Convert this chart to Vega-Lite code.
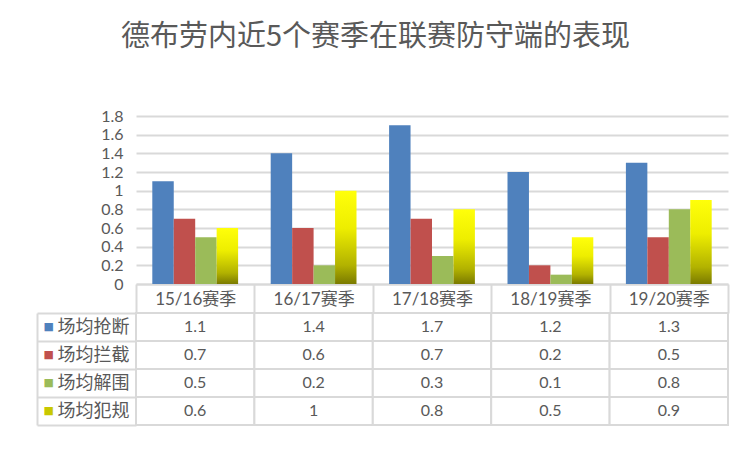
{
  "$schema": "https://vega.github.io/schema/vega-lite/v6.json",
  "padding": {"left": 36, "top": 23, "right": 10, "bottom": 10},
  "background": "white",
  "title": {
    "text": "德布劳内近5个赛季在联赛防守端的表现",
    "font": "Noto Sans CJK SC",
    "fontSize": 29,
    "fontWeight": "normal",
    "color": "#595959",
    "anchor": "middle",
    "offset": 56,
    "dx": -7
  },
  "bounds": "flush",
  "spacing": 29,
  "config": {
    "view": {"stroke": null},
    "font": "Lato, 'Noto Sans CJK SC', sans-serif"
  },
  "datasets": {
    "stats": [
      {"season": "15/16赛季", "series": "场均抢断", "value": 1.1},
      {"season": "16/17赛季", "series": "场均抢断", "value": 1.4},
      {"season": "17/18赛季", "series": "场均抢断", "value": 1.7},
      {"season": "18/19赛季", "series": "场均抢断", "value": 1.2},
      {"season": "19/20赛季", "series": "场均抢断", "value": 1.3},
      {"season": "15/16赛季", "series": "场均拦截", "value": 0.7},
      {"season": "16/17赛季", "series": "场均拦截", "value": 0.6},
      {"season": "17/18赛季", "series": "场均拦截", "value": 0.7},
      {"season": "18/19赛季", "series": "场均拦截", "value": 0.2},
      {"season": "19/20赛季", "series": "场均拦截", "value": 0.5},
      {"season": "15/16赛季", "series": "场均解围", "value": 0.5},
      {"season": "16/17赛季", "series": "场均解围", "value": 0.2},
      {"season": "17/18赛季", "series": "场均解围", "value": 0.3},
      {"season": "18/19赛季", "series": "场均解围", "value": 0.1},
      {"season": "19/20赛季", "series": "场均解围", "value": 0.8},
      {"season": "15/16赛季", "series": "场均犯规", "value": 0.6},
      {"season": "16/17赛季", "series": "场均犯规", "value": 1},
      {"season": "17/18赛季", "series": "场均犯规", "value": 0.8},
      {"season": "18/19赛季", "series": "场均犯规", "value": 0.5},
      {"season": "19/20赛季", "series": "场均犯规", "value": 0.9}
    ]
  },
  "vconcat": [
    {
      "width": 592,
      "height": 168,
      "data": {"name": "stats"},
      "encoding": {
        "x": {
          "field": "season",
          "type": "nominal",
          "sort": null,
          "scale": {
            "domain": ["15/16赛季", "16/17赛季", "17/18赛季", "18/19赛季", "19/20赛季"],
            "paddingInner": 0,
            "paddingOuter": 0
          },
          "axis": {
            "title": null,
            "orient": "bottom",
            "domainColor": "#d9d9d9",
            "domainWidth": 2,
            "tickBand": "extent",
            "tickSize": 29,
            "tickColor": "#d9d9d9",
            "tickWidth": 2,
            "labelAngle": 0,
            "labelBaseline": "middle",
            "labelPadding": -14,
            "labelFontSize": 17,
            "labelColor": "#595959",
            "labelFont": "Lato, 'Noto Sans CJK SC', sans-serif"
          }
        },
        "xOffset": {
          "field": "series",
          "type": "nominal",
          "sort": null,
          "scale": {
            "domain": ["场均抢断", "场均拦截", "场均解围", "场均犯规"],
            "paddingInner": 0,
            "paddingOuter": 0.76
          }
        },
        "y": {
          "field": "value",
          "type": "quantitative",
          "scale": {"domain": [0, 1.8], "nice": false},
          "axis": {
            "title": null,
            "values": [0, 0.2, 0.4, 0.6, 0.8, 1, 1.2, 1.4, 1.6, 1.8],
            "format": "~g",
            "domain": false,
            "ticks": false,
            "gridColor": "#d9d9d9",
            "gridWidth": 2,
            "labelPadding": 13,
            "labelFontSize": 16,
            "labelColor": "#595959",
            "labelFont": "Lato, sans-serif"
          }
        }
      },
      "layer": [
        {
          "transform": [{"filter": "datum.series != '场均犯规'"}],
          "mark": {"type": "bar"},
          "encoding": {
            "color": {
              "field": "series",
              "type": "nominal",
              "scale": {
                "domain": ["场均抢断", "场均拦截", "场均解围"],
                "range": ["#4f81bd", "#c0504d", "#9bbb59"]
              },
              "legend": null
            }
          }
        },
        {
          "transform": [{"filter": "datum.series == '场均犯规'"}],
          "mark": {
            "type": "bar",
            "fill": {
              "gradient": "linear",
              "x1": 0, "y1": 0, "x2": 0, "y2": 1,
              "stops": [
                {"offset": 0, "color": "#ffff0a"},
                {"offset": 0.4, "color": "#eeee00"},
                {"offset": 0.8, "color": "#b2b200"},
                {"offset": 1, "color": "#7a7a00"}
              ]
            }
          },
          "encoding": {}
        }
      ]
    },
    {
      "width": 592,
      "height": 112,
      "data": {"name": "stats"},
      "encoding": {
        "x": {
          "field": "season",
          "type": "nominal",
          "sort": null,
          "scale": {
            "domain": ["15/16赛季", "16/17赛季", "17/18赛季", "18/19赛季", "19/20赛季"],
            "paddingInner": 0,
            "paddingOuter": 0
          },
          "axis": null
        }
      },
      "layer": [
        {
          "mark": {"type": "rect", "fill": "white", "stroke": "#d9d9d9", "strokeWidth": 2},
          "encoding": {
            "y": {
              "field": "series",
              "type": "nominal",
              "sort": null,
              "scale": {
                "domain": ["场均抢断", "场均拦截", "场均解围", "场均犯规"],
                "paddingInner": 0,
                "paddingOuter": 0
              },
              "axis": {
                "title": null,
                "orient": "left",
                "domain": false,
                "tickBand": "extent",
                "tickSize": 99,
                "tickColor": "#d9d9d9",
                "tickWidth": 2,
                "labelAlign": "left",
                "labelPadding": -20,
                "labelFontSize": 18,
                "labelColor": "#595959",
                "labelFont": "Noto Sans CJK SC"
              }
            }
          }
        },
        {
          "mark": {"type": "text", "fontSize": 16, "color": "#595959", "font": "Lato, sans-serif"},
          "encoding": {
            "y": {
              "field": "series",
              "type": "nominal",
              "sort": null,
              "axis": {
                "title": null,
                "orient": "left",
                "offset": 99,
                "domain": true,
                "domainColor": "#d9d9d9",
                "domainWidth": 2,
                "ticks": false,
                "labelExpr": "'■'",
                "labelColor": {"expr": "datum.value == '场均抢断' ? '#4f81bd' : datum.value == '场均拦截' ? '#c0504d' : datum.value == '场均解围' ? '#9bbb59' : '#c8c800'"},
                "labelAlign": "left",
                "labelPadding": -6,
                "labelFontSize": 11,
                "labelFont": "DejaVu Sans"
              }
            },
            "text": {"field": "value", "type": "quantitative", "format": "~g"}
          }
        }
      ],
      "resolve": {"axis": {"y": "independent"}}
    }
  ]
}
